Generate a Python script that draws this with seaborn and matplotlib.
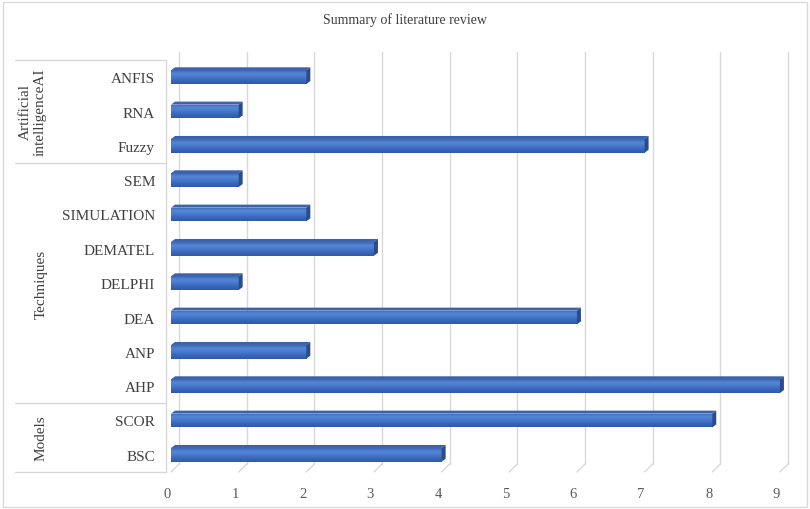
import numpy as np
import pandas as pd
import matplotlib
matplotlib.use("Agg")
import matplotlib.pyplot as plt
import seaborn as sns
from matplotlib.lines import Line2D
from matplotlib.patches import Polygon, Rectangle
from matplotlib.colors import LinearSegmentedColormap
from matplotlib.transforms import blended_transform_factory

# ---------------- data ----------------
methods = ["ANFIS", "RNA", "Fuzzy", "SEM", "SIMULATION", "DEMATEL", "DELPHI",
           "DEA", "ANP", "AHP", "SCOR", "BSC"]
counts = [2, 1, 7, 1, 2, 3, 1, 6, 2, 9, 8, 4]
groups = ["Artificial\nintelligenceAI"] * 3 + ["Techniques"] * 7 + ["Models"] * 2
x_ticks = list(range(10))
title = "Summary of literature review"

df = pd.DataFrame({"method": methods, "count": counts, "group": groups})

sns.set_theme(style="white")
plt.rcParams["font.family"] = ["Liberation Serif", "DejaVu Serif"]

W, H = 810, 510
fig = plt.figure(figsize=(W / 100, H / 100), dpi=100)
fig.patch.set_facecolor("white")
ax_l, ax_r, ax_t, ax_b = 171, 786, 61, 473
ax = fig.add_axes([ax_l / W, 1 - ax_b / H, (ax_r - ax_l) / W, (ax_b - ax_t) / H])

sns.barplot(data=df, x="count", y="method", order=methods, color="#4472C4",
            saturation=1, width=0.40, ax=ax, edgecolor="none", zorder=3)

xmax = 9.09
ax.set_xlim(0, xmax)
ax.set_ylim(len(methods) - 0.5, -0.5)

px_x = (ax_r - ax_l) / xmax          # pixels per x unit
px_y = (ax_b - ax_t) / len(methods)  # pixels per category

# 3D-ish bars: gradient front, top and side faces
cmap = LinearSegmentedColormap.from_list(
    "bar", ["#3D68B8", "#5587D8", "#4878CA", "#3766BA", "#2F5AA8"])
grad = np.linspace(0, 1, 64).reshape(-1, 1)
ddx, ddy = 4 / px_x, 3 / px_y
for p in list(ax.patches):
    x0, y0, w, h = p.get_x(), p.get_y(), p.get_width(), p.get_height()
    im = ax.imshow(grad, extent=[x0, x0 + w, y0 + h, y0], aspect="auto",
                   cmap=cmap, zorder=3.1, interpolation="bilinear")
    im.set_clip_path(p)
    ax.add_patch(Polygon([(x0, y0), (x0 + w, y0), (x0 + w + ddx, y0 - ddy),
                          (x0 + ddx, y0 - ddy)], closed=True,
                         facecolor="#3B62AA", edgecolor="none", zorder=3.2))
    ax.add_patch(Polygon([(x0 + w, y0), (x0 + w, y0 + h),
                          (x0 + w + ddx, y0 + h - ddy), (x0 + w + ddx, y0 - ddy)],
                         closed=True, facecolor="#2B4C8C", edgecolor="none",
                         zorder=3.2))
ax.set_xlim(0, xmax)
ax.set_ylim(len(methods) - 0.5, -0.5)

# back-wall gridlines with floor diagonals
gdx = 8 / px_x
gdy = 8 / (ax_b - ax_t)
btr = blended_transform_factory(ax.transData, ax.transAxes)
for v in x_ticks:
    ax.add_line(Line2D([v + gdx, v + gdx], [gdy, 1 + gdy], transform=btr,
                       color="#D9D9D9", lw=1, clip_on=False, zorder=1))
    ax.add_line(Line2D([v, v + gdx], [0, gdy], transform=btr,
                       color="#D9D9D9", lw=1, clip_on=False, zorder=1))

for s in ax.spines.values():
    s.set_visible(False)
ax.set_xlabel("")
ax.set_ylabel("")
ax.set_xticks(x_ticks)
ax.set_xticklabels([str(t) for t in x_ticks])
ax.tick_params(axis="x", length=0, pad=11, labelsize=10.5, labelcolor="#595959")
ax.tick_params(axis="y", length=0, pad=11.5, labelsize=11, labelcolor="#404040")
for lab in ax.get_xticklabels():
    lab.set_horizontalalignment("right")

# category column lines
ftr = blended_transform_factory(fig.transFigure, ax.transData)
bounds = [-0.5]
prev = groups[0]
for i, g in enumerate(groups):
    if g != prev:
        bounds.append(i - 0.5)
        prev = g
bounds.append(len(groups) - 0.5)
for b in bounds:
    fig.add_artist(Line2D([15 / W, 166 / W], [b, b], transform=ftr,
                          color="#D9D9D9", lw=1))
fig.add_artist(Line2D([166 / W, 166 / W], [bounds[0], bounds[-1]], transform=ftr,
                      color="#D9D9D9", lw=1))

# group labels
for gi in range(len(bounds) - 1):
    g = groups[int(bounds[gi] + 0.5)]
    yc = (bounds[gi] + bounds[gi + 1]) / 2
    xc = 33 / W if "\n" in g else 41 / W
    fig.text(xc, yc, g, transform=ftr, rotation=90, ha="center", va="center",
             multialignment="center", fontsize=11, color="#404040",
             linespacing=1.15)

fig.text(0.5, 1 - 20 / H, title, ha="center", va="center", fontsize=10,
         color="#404040")

fig.add_artist(Rectangle((3 / W, 2 / H), 804 / W, 505 / H, transform=fig.transFigure,
                         fill=False, edgecolor="#D9D9D9", lw=1))

fig.savefig("out.png", dpi=100)
